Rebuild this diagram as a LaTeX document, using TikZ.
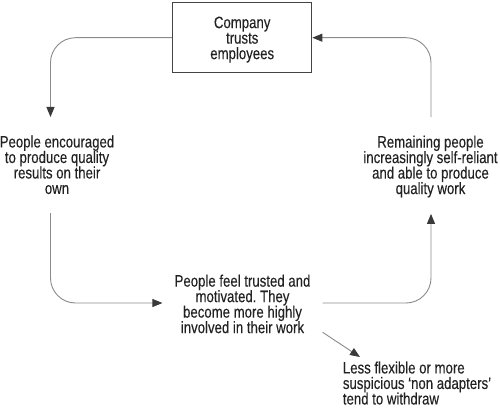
\documentclass[tikz,border=0pt]{standalone}
\usepackage{fontspec}
\setmainfont[FakeStretch=0.8,FakeBold=0.2]{Liberation Sans}
\usetikzlibrary{arrows.meta}
\definecolor{linecol}{HTML}{8A8A8A}
\definecolor{arrowcol}{HTML}{3A3A3A}
\definecolor{boxcol}{HTML}{444444}
\definecolor{txtcol}{HTML}{222222}
\newcommand\diagfont{\fontsize{16.5}{15.5}\selectfont\frenchspacing}
\begin{document}
\begin{tikzpicture}[x=1pt,y=-1pt,
  txt/.style={inner sep=0pt, align=center, font=\diagfont, text=txtcol},
  txtl/.style={inner sep=0pt, align=left, font=\diagfont, text=txtcol},
  box/.style={draw=boxcol, line width=1.3pt, minimum width=139pt, minimum height=70pt, inner sep=0pt},
  conn/.style={draw=linecol, line width=0.9pt, rounded corners=25pt,
    -{Triangle[length=10pt,width=8pt,color=arrowcol]}},
]
\useasboundingbox (0,0) rectangle (500,412);

\node[box, label={[txt, yshift=-1.85pt]center:{Company\\trusts\\employees}}] (company) at (242.2,37.7) {};

\node[txt] (left) at (57,164.8) {People encouraged\\to produce quality\\results on their\\own};
\node[txt] (right) at (430.5,166.55) {Remaining people\\increasingly self-reliant\\and able to produce\\quality work};
\node[txt] (mid) at (242.5,303.95) {People feel trusted and\\motivated. They\\become more highly\\involved in their work};
\node[txtl, anchor=north west] (bot) at (342.7,361.3) {Less flexible or more\\suspicious `non adapters'\\tend to withdraw};

\draw[conn] (company.west) -| ([xshift=-6.5pt,yshift=18.3pt]left.north);
\draw[conn] ([xshift=-6.5pt,yshift=-18.7pt]left.south) |- ([xshift=-12pt,yshift=0.95pt]mid.west);
\draw[conn] ([xshift=12pt,yshift=0.95pt]mid.east) -| ([xshift=0.5pt,yshift=-16.2pt]right.south);
\draw[conn] ([xshift=0.5pt,yshift=18.3pt]right.north) |- (company.east);
\draw[draw=linecol, line width=0.9pt, -{Triangle[length=10pt,width=8pt,color=arrowcol]}]
  ([xshift=12pt,yshift=1.2pt]mid.south east) -- ([xshift=17.3pt,yshift=4.3pt]bot.north west);
\end{tikzpicture}
\end{document}
